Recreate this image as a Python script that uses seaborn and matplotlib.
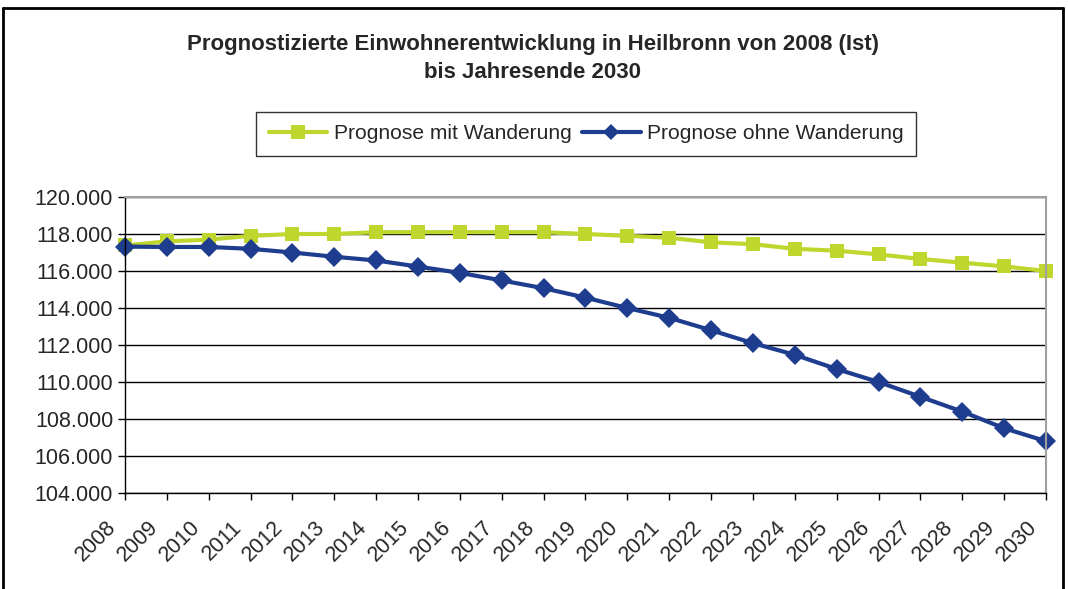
import pandas as pd
import matplotlib.pyplot as plt
import matplotlib.ticker as mticker
from matplotlib.lines import Line2D
from matplotlib.transforms import ScaledTranslation
import seaborn as sns

years = list(range(2008, 2031))
mit_wanderung = [117.38, 117.6, 117.7, 117.9, 118.0, 118.0, 118.1, 118.1, 118.1, 118.1, 118.1, 118.0,
                 117.9, 117.8, 117.55, 117.45, 117.2, 117.1, 116.9, 116.65, 116.45, 116.25, 116.0]
ohne_wanderung = [117.32, 117.3, 117.3, 117.2, 117.0, 116.77, 116.57, 116.24, 115.9, 115.49, 115.07, 114.56,
                  114.0, 113.47, 112.8, 112.1, 111.47, 110.7, 110.0, 109.2, 108.4, 107.5, 106.8]
series_names = ["Prognose mit Wanderung", "Prognose ohne Wanderung"]
title = "Prognostizierte Einwohnerentwicklung in Heilbronn von 2008 (Ist)\nbis Jahresende 2030"

df = pd.DataFrame({
    "Jahr": years * 2,
    "Einwohner": [v * 1000 for v in mit_wanderung + ohne_wanderung],
    "Reihe": [series_names[0]] * len(years) + [series_names[1]] * len(years),
})

sns.set_style("white")
plt.rcParams["font.family"] = ["Liberation Sans", "DejaVu Sans"]

green = "#BFD62F"
blue = "#1F3D8F"

fig = plt.figure(figsize=(10.68, 5.89), dpi=100)
ax = fig.add_axes([0.117, 0.163, 0.8624, 0.5025])

sns.lineplot(data=df, x="Jahr", y="Einwohner", hue="Reihe", style="Reihe",
             palette=[green, blue], markers=["s", "D"], dashes=False,
             linewidth=3, markersize=10, markeredgewidth=0, ax=ax, clip_on=False)

ax.set_xlim(2008, 2030)
ax.set_ylim(104000, 120000)
ax.set_yticks(range(104000, 120001, 2000))
ax.yaxis.set_major_formatter(mticker.FuncFormatter(lambda v, p: f"{int(v):,}".replace(",", ".")))
ax.set_xticks(years)
ax.set_xticklabels([str(y) for y in years], rotation=45, ha="right", va="center",
                   rotation_mode="anchor")
ax.tick_params(axis="both", labelsize=15.5, length=5, width=1, color="black", direction="out")
ax.tick_params(axis="x", pad=8)
ax.tick_params(left=True, bottom=True)
shift = ScaledTranslation(-0.12, -0.13, fig.dpi_scale_trans)
for lbl in ax.get_xticklabels():
    lbl.set_transform(lbl.get_transform() + shift)
ax.grid(axis="y", color="black", linewidth=1)
ax.set_axisbelow(True)
ax.set_xlabel("")
ax.set_ylabel("")

for side in ["top", "right"]:
    ax.spines[side].set_color("#A0A0A0")
    ax.spines[side].set_linewidth(1.5)
for side in ["left", "bottom"]:
    ax.spines[side].set_color("black")
    ax.spines[side].set_linewidth(1)

ax.legend_.remove()
handles = [Line2D([], [], color=green, lw=3, marker="s", markersize=10, markeredgewidth=0),
           Line2D([], [], color=blue, lw=3, marker="D", markersize=8, markeredgewidth=0)]
leg = fig.legend(handles, series_names, loc="center", bbox_to_anchor=(0.5487, 0.7725),
                 ncol=2, fontsize=15.1, frameon=True, fancybox=False, handlelength=2.8,
                 handletextpad=0.3, columnspacing=0.5, borderpad=0.6)
leg.get_frame().set_edgecolor("black")
leg.get_frame().set_linewidth(1)

fig.suptitle(title, x=0.499, y=0.943, fontsize=16, fontweight="bold", linespacing=1.45)

# outer chart frame
fig.add_artist(Line2D([0.003, 0.003], [0.0, 0.986], color="black", lw=2, transform=fig.transFigure))
fig.add_artist(Line2D([0.003, 0.995], [0.986, 0.986], color="black", lw=2, transform=fig.transFigure))
fig.add_artist(Line2D([0.995, 0.995], [0.0, 0.986], color="black", lw=2, transform=fig.transFigure))

fig.savefig("out.png", dpi=100)
